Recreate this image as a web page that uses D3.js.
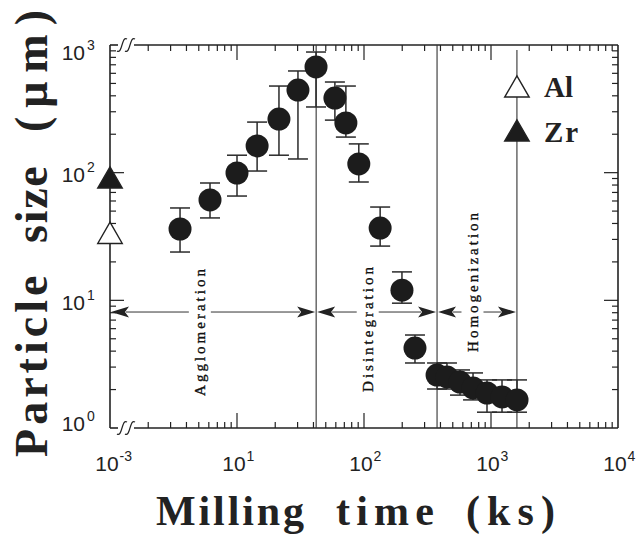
<!DOCTYPE html>
<html><head><meta charset="utf-8">
<script src="https://cdn.jsdelivr.net/npm/d3@7"></script>
<style>
body{margin:0;background:#fff}svg{display:block}
.serif{font-family:"Liberation Serif","Times New Roman",Times,serif}
.sans{font-family:"Liberation Sans",Arial,Helvetica,sans-serif}
</style>
</head><body><svg id="c" width="637" height="535"></svg>
<script>
// ---- data (milling time in ks, particle size in µm) ----
const timesKs = [3.56, 6.13, 10, 14.4, 21.4, 30.2, 41.9, 59, 72, 91, 134, 199, 252, 376, 450, 570, 722, 930, 1221, 1603];
const sizeUm  = [36.2, 61.1, 99.4, 162, 263, 444, 673, 384, 245, 117, 36.8, 12.0, 4.23, 2.60, 2.51, 2.29, 2.06, 1.88, 1.75, 1.66];
const errHigh = [52.9, 83, 137, 249, 477, 626, 881, 513, 477, 168, 53.8, 16.7, 5.35, 3.23, 3.23, 2.85, 2.70, 2.38, 2.38, 2.38];
const errLow  = [23.9, 44.2, 65.6, 103, 137, 128, 327, 258, 190, 84.5, 26.6, 9.5, 3.23, 2.02, 2.02, 1.81, 1.66, 1.33, 1.33, 1.33];
// starting powders (plotted at the 10^-3 position of the broken axis)
const powderNames = ["Al", "Zr"];
const powderSize  = [31.7, 86];
const powderFilled = [false, true];
// stages
const stageNames = ["Agglomeration", "Disintegration", "Homogenization"];
const stageBounds = [1, 42, 376, 1600];
const stageArrowY = 8.1;
const stageLabelX = [5.1, 107, 715];
const stageLabelY = [5.75, 6.07, 14.2];
// axis ticks
const xTickValues = [1, 10, 100, 1000, 10000];
const xTickExp = ["-3", "1", "2", "3", "4"];
const yTickValues = [1, 10, 100, 1000];
const yTickExp = ["0", "1", "2", "3"];
// axis titles (word by word)
const xTitleWords = ["Milling", "time", "(ks)"];
const yTitleWords = ["Particle", "size", "(μm)"];

const svg = d3.select("#c");
const ink = "#222";
const x = d3.scaleLog().domain([1, 1e4]).range([110, 618]);
const y = d3.scaleLog().domain([1, 1e3]).range([428, 45]);
const X0 = x(1), X1 = x(1e4), Y0 = y(1), Y1 = y(1e3);
const isMajor = v => Math.abs(Math.log10(v) - Math.round(Math.log10(v))) < 1e-9;

// frame with breaks
const frame = svg.append("g").attr("stroke", ink).attr("stroke-width", 1.6).attr("fill", "none");
const brk1 = X0 + 12, brk2 = X0 + 20;
[Y1, Y0].forEach(yy => {
  frame.append("line").attr("x1", X0).attr("x2", brk1 - 4).attr("y1", yy).attr("y2", yy);
  frame.append("line").attr("x1", brk2 + 4).attr("x2", X1).attr("y1", yy).attr("y2", yy);
  [brk1, brk2].forEach(cx => {
    frame.append("path").attr("stroke-width", 1.2)
      .attr("d", `M${cx-5},${yy+6} C${cx-2},${yy+8} ${cx-1},${yy+3} ${cx},${yy} S${cx+2},${yy-8} ${cx+5},${yy-6}`);
  });
});
frame.append("line").attr("x1", X0).attr("x2", X0).attr("y1", Y1).attr("y2", Y0);
frame.append("line").attr("x1", X1).attr("x2", X1).attr("y1", Y1).attr("y2", Y0);

// ticks (inward)
const tk = svg.append("g").attr("stroke", ink).attr("stroke-width", 1.2);
x.ticks().forEach(v => {
  if (v <= 1 || v >= 1e4) return;
  const L = isMajor(v) ? 15 : 6, px = x(v);
  tk.append("line").attr("x1", px).attr("x2", px).attr("y1", Y0).attr("y2", Y0 - L);
  tk.append("line").attr("x1", px).attr("x2", px).attr("y1", Y1).attr("y2", Y1 + L);
});
y.ticks().forEach(v => {
  if (v <= 1 || v >= 1e3) return;
  const L = isMajor(v) ? 14 : 6, py = y(v);
  tk.append("line").attr("x1", X0).attr("x2", X0 + L).attr("y1", py).attr("y2", py);
  tk.append("line").attr("x1", X1).attr("x2", X1 - L).attr("y1", py).attr("y2", py);
});

// tick labels
const lab = svg.append("g").attr("fill", ink).attr("class", "sans");
xTickValues.forEach((v, i) => {
  const cx = x(v) - 3;
  lab.append("text").attr("x", cx).attr("y", 471).attr("text-anchor", "middle").attr("font-size", 21).text("10");
  lab.append("text").attr("x", cx + 12.5).attr("y", 461).attr("font-size", 14).text(xTickExp[i]);
});
yTickValues.forEach((v, i) => {
  const cy = Math.min(Math.max(y(v) + 2, 52), 423) + 7.5;
  lab.append("text").attr("x", 85).attr("y", cy).attr("text-anchor", "end").attr("font-size", 21).text("10");
  lab.append("text").attr("x", 87).attr("y", cy - 10).attr("font-size", 14).text(yTickExp[i]);
});

// axis titles
const yTitleStart = [-457, -243, -132], yTitleLen = [197, 90, 122];
const yt = svg.append("text").attr("class", "serif").attr("transform", "translate(47,0) rotate(-90)")
  .attr("font-weight", "bold").attr("font-size", 46).attr("fill", ink);
yTitleWords.forEach((w, i) => {
  yt.append("tspan").attr("x", yTitleStart[i]).attr("y", 0)
    .attr("textLength", yTitleLen[i]).attr("lengthAdjust", "spacing").text(w + (i < 2 ? " " : ""));
});
const xTitleStart = [156, 336, 466], xTitleLen = [148, 98, 89];
const xtt = svg.append("text").attr("class", "serif").attr("y", 525)
  .attr("font-weight", "bold").attr("font-size", 42).attr("fill", ink);
xTitleWords.forEach((w, i) => {
  xtt.append("tspan").attr("x", xTitleStart[i]).attr("y", 525)
    .attr("textLength", xTitleLen[i]).attr("lengthAdjust", "spacing").text(w);
});

// stage boundaries
const vl = svg.append("g").attr("stroke", "#333").attr("stroke-width", 1.1);
stageBounds.slice(1).forEach((b, i) => {
  vl.append("line").attr("x1", x(b)).attr("x2", x(b))
    .attr("y1", i === 2 ? Y1 + 5 : Y1).attr("y2", Y0);
});

// stage arrows & labels
const ar = svg.append("g");
const ay = y(stageArrowY);
stageNames.forEach((name, i) => {
  const a = x(stageBounds[i]), b = x(stageBounds[i + 1]);
  const tx = x(stageLabelX[i]), gap = 11;
  ar.append("line").attr("x1", a + 16).attr("x2", tx - gap).attr("y1", ay).attr("y2", ay).attr("stroke", "#333").attr("stroke-width", 1);
  ar.append("line").attr("x1", tx + gap).attr("x2", b - 16).attr("y1", ay).attr("y2", ay).attr("stroke", "#333").attr("stroke-width", 1);
  ar.append("path").attr("fill", ink)
    .attr("d", `M${a + 1},${ay} L${a + 19},${ay - 5.5} L${a + 15},${ay} L${a + 19},${ay + 5.5} Z`);
  ar.append("path").attr("fill", ink)
    .attr("d", `M${b - 1},${ay} L${b - 19},${ay - 5.5} L${b - 15},${ay} L${b - 19},${ay + 5.5} Z`);
  ar.append("text").attr("class", "serif").attr("transform", `translate(${tx},${y(stageLabelY[i])}) rotate(-90)`)
    .attr("text-anchor", "middle").attr("dy", "0.35em")
    .attr("font-size", 15).attr("letter-spacing", 3).attr("fill", "#111")
    .attr("stroke", "#111").attr("stroke-width", 0.35).text(name);
});

// error bars
const eb = svg.append("g").attr("stroke", "#2a2a2a").attr("stroke-width", 1.5);
timesKs.forEach((t, i) => {
  const px = x(t);
  eb.append("line").attr("x1", px).attr("x2", px).attr("y1", y(errHigh[i])).attr("y2", y(errLow[i]));
  [errHigh[i], errLow[i]].forEach(v => eb.append("line").attr("x1", px - 10).attr("x2", px + 10).attr("y1", y(v)).attr("y2", y(v)));
});
// points
svg.append("g").selectAll("circle").data(timesKs).join("circle")
  .attr("cx", d => x(d)).attr("cy", (d, i) => y(sizeUm[i])).attr("r", 11.5).attr("fill", "#1c1c1c");

// starting powders on the axis
const tri = d3.symbol().type(d3.symbolTriangle).size(260);
powderSize.forEach((s, i) => {
  svg.append("path").attr("d", tri()).attr("transform", `translate(${x(1)},${y(s)})`)
    .attr("fill", powderFilled[i] ? "#1c1c1c" : "#fff").attr("stroke", ink).attr("stroke-width", 1.4);
});

// legend
const lgY = [90, 134];
powderNames.forEach((n, i) => {
  svg.append("path").attr("d", tri()).attr("transform", `translate(${x(stageBounds[3])},${lgY[i]})`)
    .attr("fill", powderFilled[i] ? "#1c1c1c" : "#fff").attr("stroke", ink).attr("stroke-width", 1.4);
  svg.append("text").attr("class", "serif").attr("x", 544).attr("y", lgY[i] + 7 + (i ? 1 : 0))
    .attr("font-weight", "bold")
    .attr("font-size", 29).attr("letter-spacing", i ? 2 : 0).attr("fill", ink).text(n);
});
</script></body></html>
